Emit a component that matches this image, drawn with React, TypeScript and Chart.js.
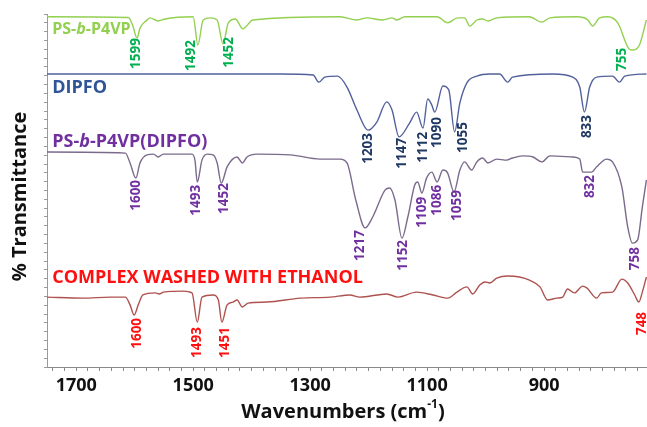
import React, { useEffect, useRef } from "react";
import { Chart, registerables } from "chart.js";

Chart.register(...registerables);

// ---- Spectra (wavenumber cm-1, stacked % transmittance) ----
const greenWn = [1750, 1611, 1604, 1596, 1591, 1579, 1574, 1560, 1548, 1500, 1492, 1483, 1471, 1459, 1449, 1440, 1428, 1415, 1398, 1249, 1220, 1203, 1176, 1160, 1152, 1138, 1083, 1065, 1048, 1036, 1027, 1015, 1005, 996, 981, 925, 904, 890, 844, 825, 817, 805, 791, 774, 754, 749, 737, 725];
const greenT = [99.2, 99.0, 97.0, 93.2, 96.0, 98.3, 98.9, 98.0, 98.6, 99.2, 91.2, 98.3, 98.9, 98.3, 91.5, 97.5, 98.6, 95.8, 98.3, 99.2, 98.3, 98.9, 98.3, 98.9, 98.3, 99.2, 99.2, 97.5, 98.9, 98.9, 96.6, 98.3, 98.6, 98.0, 98.9, 99.2, 97.7, 98.9, 99.2, 98.3, 96.6, 98.9, 99.2, 97.5, 90.0, 89.8, 91.2, 98.3];

const blueWn = [1750, 1352, 1295, 1285, 1275, 1253, 1237, 1220, 1201, 1186, 1169, 1160, 1148, 1130, 1118, 1107, 1099, 1092, 1087, 1073, 1063, 1053, 1044, 1032, 1015, 993, 976, 962, 954, 885, 851, 839, 831, 822, 810, 783, 771, 762, 725];
const blueT = [83.0, 83.0, 82.7, 80.7, 82.1, 82.4, 79.3, 72.8, 67.1, 69.4, 75.1, 72.8, 65.2, 69.1, 72.2, 67.7, 75.9, 74.2, 72.2, 79.6, 78.5, 66.6, 74.8, 80.5, 82.4, 83.0, 83.0, 80.7, 82.1, 83.0, 82.1, 79.3, 72.2, 79.3, 82.1, 82.4, 80.7, 82.4, 83.0];

const purpleWn = [1750, 1616, 1608, 1598, 1591, 1579, 1568, 1560, 1551, 1502, 1497, 1493, 1485, 1476, 1466, 1459, 1452, 1442, 1425, 1416, 1408, 1391, 1334, 1283, 1249, 1237, 1222, 1206, 1193, 1172, 1164, 1155, 1143, 1133, 1121, 1116, 1109, 1101, 1092, 1083, 1073, 1065, 1054, 1044, 1036, 1024, 1015, 1005, 996, 981, 964, 954, 937, 919, 904, 890, 851, 839, 834, 819, 810, 793, 783, 767, 757, 749, 740, 732, 725];
const purpleT = [60.9, 60.6, 57.8, 53.5, 57.8, 60.1, 60.3, 59.5, 60.3, 60.3, 58.6, 52.4, 58.6, 60.3, 60.1, 57.8, 52.1, 56.7, 59.5, 57.8, 59.5, 60.3, 60.1, 58.9, 58.9, 57.8, 47.3, 39.4, 42.5, 50.1, 50.7, 47.3, 36.5, 42.5, 51.6, 52.4, 49.3, 53.5, 55.2, 52.4, 55.8, 55.0, 49.6, 55.8, 58.1, 55.8, 58.1, 59.2, 57.8, 58.9, 58.6, 59.2, 59.8, 59.5, 58.1, 59.8, 59.5, 58.9, 55.2, 55.2, 56.7, 58.9, 58.1, 51.0, 39.7, 35.1, 36.0, 45.3, 53.0];

const redWn = [1750, 1688, 1642, 1616, 1608, 1601, 1594, 1586, 1565, 1558, 1551, 1517, 1502, 1493, 1485, 1466, 1457, 1451, 1442, 1432, 1425, 1416, 1406, 1374, 1317, 1266, 1232, 1215, 1169, 1150, 1118, 1090, 1065, 1049, 1032, 1022, 1010, 1001, 993, 981, 962, 942, 925, 907, 894, 878, 868, 860, 848, 834, 827, 810, 802, 783, 767, 757, 745, 738, 732, 725];
const redT = [19.8, 19.5, 19.8, 19.8, 17.6, 14.7, 17.6, 20.4, 21.0, 20.7, 21.2, 21.5, 21.0, 12.7, 19.8, 20.4, 19.0, 12.7, 17.6, 18.4, 19.0, 17.0, 18.1, 18.4, 19.5, 19.8, 20.4, 19.8, 20.7, 19.8, 21.2, 20.4, 19.5, 21.2, 22.7, 20.7, 23.2, 24.1, 23.8, 25.2, 25.8, 25.5, 24.6, 22.7, 19.0, 19.5, 19.8, 22.1, 21.0, 22.9, 22.4, 19.5, 21.0, 21.2, 24.9, 23.8, 20.4, 18.4, 21.2, 25.5];

// ---- Peak annotations ----
const greenPeakText = ["1599", "1492", "1452", "755"];
const greenPeakAt = [1598, 1504, 1439, 767];
const greenPeakTop = [93.2, 92.6, 93.5, 90.4];

const bluePeakText = ["1203", "1147", "1112", "1090", "1055", "833"];
const bluePeakAt = [1201, 1143, 1107, 1082, 1039, 827];
const bluePeakTop = [66.3, 64.9, 66.6, 70.8, 69.4, 71.4];

const purplePeakText = ["1600", "1493", "1452", "1217", "1152", "1109", "1086", "1059", "832", "758"];
const purplePeakAt = [1598, 1495, 1447, 1215, 1141, 1109, 1082, 1049, 822, 745];
const purplePeakTop = [53.0, 51.6, 52.1, 38.8, 36.0, 48.2, 51.6, 50.1, 54.4, 34.0];

const redPeakText = ["1600", "1493", "1451", "748"];
const redPeakAt = [1596, 1493, 1446, 733];
const redPeakTop = [13.9, 11.3, 11.3, 15.6];

// ---- Series names ----
const seriesNames = ["PS-b-P4VP", "DIPFO", "PS-b-P4VP(DIPFO)", "COMPLEX WASHED WITH ETHANOL"];
const seriesNameY = [95.5, 79.0, 63.7, 25.2];
const seriesNameX = 1741;

const xTickLabels = [1700, 1500, 1300, 1100, 900];

const FONT = '"Open Sans", "DejaVu Sans", sans-serif';

const lineColors = ["#92d050", "#52619c", "#7b6a8c", "#ad524f"];
const peakColors = ["#00b050", "#1f3864", "#7030a0", "#ff1010"];
const nameColors = ["#92d050", "#2f5597", "#7030a0", "#ff1010"];
const nameSizes = [16, 18, 18, 18];

function drawName(ctx: CanvasRenderingContext2D, text: string, x: number, y: number, size: number) {
  // italic "b" in block copolymer names
  const parts: [string, boolean][] = [];
  const m = text.match(/^(PS-)(b)(-.*)$/);
  if (m) {
    parts.push([m[1], false], [m[2], true], [m[3], false]);
  } else parts.push([text, false]);
  let cx = x;
  for (const [t, it] of parts) {
    ctx.font = `${it ? "italic " : ""}bold ${size}px ${FONT}`;
    ctx.fillText(t, cx, y);
    cx += ctx.measureText(t).width;
  }
}

const textPlugin = {
  id: "ftirText",
  afterDatasetsDraw(chart: any) {
    const { ctx, scales, chartArea } = chart;
    const xs = scales.x;
    const ys = scales.y;
    ctx.save();
    const groups = [
      [greenPeakText, greenPeakAt, greenPeakTop],
      [bluePeakText, bluePeakAt, bluePeakTop],
      [purplePeakText, purplePeakAt, purplePeakTop],
      [redPeakText, redPeakAt, redPeakTop],
    ] as [string[], number[], number[]][];
    groups.forEach(([txt, at, top], gi) => {
      ctx.fillStyle = peakColors[gi];
      ctx.font = `bold 13.5px ${FONT}`;
      txt.forEach((t, i) => {
        const px = xs.getPixelForValue(at[i]);
        const py = ys.getPixelForValue(top[i]);
        ctx.save();
        ctx.translate(px, py);
        ctx.rotate(-Math.PI / 2);
        ctx.textAlign = "right";
        ctx.textBaseline = "middle";
        ctx.fillText(t, 0, 0);
        ctx.restore();
      });
    });
    seriesNames.forEach((n, i) => {
      ctx.fillStyle = nameColors[i];
      ctx.textAlign = "left";
      ctx.textBaseline = "middle";
      drawName(ctx, n, xs.getPixelForValue(seriesNameX), ys.getPixelForValue(seriesNameY[i]), nameSizes[i]);
    });

    // axis titles
    ctx.fillStyle = "#111";
    ctx.textBaseline = "middle";
    ctx.textAlign = "left";
    const main1 = "Wavenumbers (cm";
    const sup = "-1";
    const main2 = ")";
    ctx.font = `bold 20px ${FONT}`;
    const w1 = ctx.measureText(main1).width;
    const w3 = ctx.measureText(main2).width;
    ctx.font = `bold 12px ${FONT}`;
    const w2 = ctx.measureText(sup).width;
    const total = w1 + w2 + w3;
    const cx = (chartArea.left + chartArea.right) / 2 - 4;
    const ty = chartArea.bottom + 45;
    let sx = cx - total / 2;
    ctx.font = `bold 20px ${FONT}`;
    ctx.fillText(main1, sx, ty);
    sx += w1;
    ctx.font = `bold 12px ${FONT}`;
    ctx.fillText(sup, sx, ty - 7);
    sx += w2;
    ctx.font = `bold 20px ${FONT}`;
    ctx.fillText(main2, sx, ty);

    ctx.save();
    ctx.translate(20, (chartArea.top + chartArea.bottom) / 2 + 6);
    ctx.rotate(-Math.PI / 2);
    ctx.textAlign = "center";
    ctx.font = `bold 20px ${FONT}`;
    ctx.fillText("% Transmittance", 0, 0);
    ctx.restore();
    ctx.restore();
  },
};

export default function App() {
  const ref = useRef<HTMLCanvasElement | null>(null);
  useEffect(() => {
    document.body.style.margin = "0";
    const canvas = ref.current;
    if (!canvas) return;
    const mk = (wn: number[], t: number[]) => wn.map((x, i) => ({ x, y: t[i] }));
    const sets = [mk(greenWn, greenT), mk(blueWn, blueT), mk(purpleWn, purpleT), mk(redWn, redT)];
    const chart = new Chart(canvas, {
      type: "line",
      data: {
        datasets: sets.map((d, i) => ({
          label: seriesNames[i],
          data: d,
          borderColor: lineColors[i],
          borderWidth: 1.4,
          pointRadius: 0,
          cubicInterpolationMode: "monotone" as const,
          fill: false,
        })),
      },
      options: {
        animation: false,
        responsive: true,
        maintainAspectRatio: false,
        layout: { padding: { top: 14, right: 0, left: 0, bottom: 0 } },
        plugins: { legend: { display: false }, tooltip: { enabled: false } },
        scales: {
          x: {
            type: "linear",
            reverse: true,
            min: 724,
            max: 1750,
            afterBuildTicks: (scale: any) => {
              const t = [];
              for (let v = 740; v <= 1740; v += 20) t.push({ value: v });
              scale.ticks = t;
            },
            afterFit: (scale: any) => {
              scale.height = 60;
            },
            ticks: {
              autoSkip: false,
              maxRotation: 0,
              padding: 4,
              color: "#111",
              font: { family: FONT, size: 18, weight: "bold" },
              callback: (v: any) => (xTickLabels.includes(Number(v)) ? String(v) : ""),
            },
            grid: { drawOnChartArea: false, tickLength: 4, color: "#8a8a8a" },
            border: { color: "#8a8a8a" },
          },
          y: {
            min: 0,
            max: 100,
            afterFit: (scale: any) => {
              scale.width = 47;
            },
            ticks: { stepSize: 2.5, callback: () => "", autoSkip: false },
            grid: { drawOnChartArea: false, tickLength: 3, color: "#9a9a9a" },
            border: { color: "#9a9a9a" },
          },
        },
      },
      plugins: [textPlugin],
    });
    return () => chart.destroy();
  }, []);
  return (
    <div style={{ position: "relative", width: 647, height: 427 }}>
      <canvas ref={ref} />
    </div>
  );
}
